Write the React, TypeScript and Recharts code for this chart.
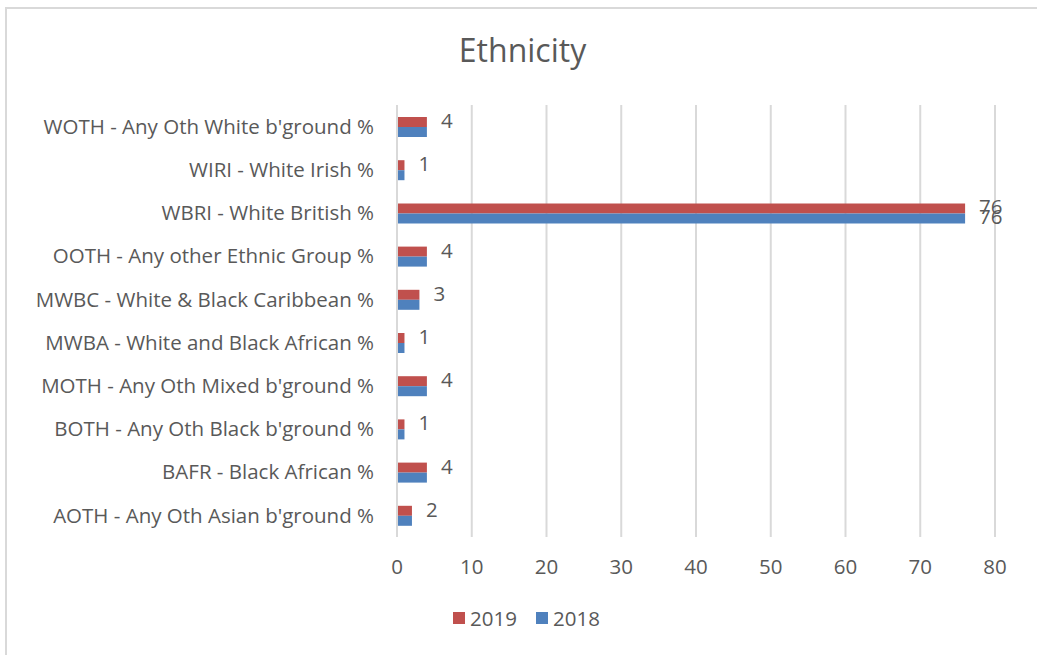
import { BarChart, Bar, XAxis, YAxis, CartesianGrid, LabelList } from "recharts";

const categories = [
  "WOTH - Any Oth White b'ground %",
  "WIRI - White Irish %",
  "WBRI - White British %",
  "OOTH - Any other Ethnic Group %",
  "MWBC - White & Black Caribbean %",
  "MWBA - White and Black African %",
  "MOTH - Any Oth Mixed b'ground %",
  "BOTH - Any Oth Black b'ground %",
  "BAFR - Black African %",
  "AOTH - Any Oth Asian b'ground %",
];
const values2019 = [4, 1, 76, 4, 3, 1, 4, 1, 4, 2];
const values2018 = [4, 1, 76, 4, 3, 1, 4, 1, 4, 2];
// only the long bar gets a visible 2018 label, the rest sit under the 2019 ones
const show2018Label = [false, false, true, false, false, false, false, false, false, false];
const xTicks = [0, 10, 20, 30, 40, 50, 60, 70, 80];

const data = categories.map((name, i) => ({
  name,
  y2019: values2019[i],
  y2018: values2018[i],
}));

const FONT = "'Open Sans', sans-serif";
const TEXT = "#595959";
const GRID = "#d9d9d9";
const RED = "#C0504D";
const BLUE = "#4F81BD";
const FS = 20.5;

const label2018 = (props: any) => {
  const { x, y, width, height, value, index } = props;
  if (!show2018Label[index]) return null;
  return (
    <text x={x + width + 14} y={y + height / 2} dy={6} fill={TEXT} fontSize={FS} fontFamily={FONT}>
      {value}
    </text>
  );
};

const label2019 = (props: any) => {
  const { x, y, width, height, value } = props;
  return (
    <text x={x + width + 14} y={y + height / 2} dy={6} fill={TEXT} fontSize={FS} fontFamily={FONT}>
      {value}
    </text>
  );
};

const legendItems = [
  { name: "2019", color: RED },
  { name: "2018", color: BLUE },
];

export default function App() {
  return (
    <div style={{ position: "absolute", left: 0, top: 0, width: 1037, height: 655, overflow: "hidden", background: "#fff", fontFamily: FONT }}>
      <div style={{ position: "absolute", left: 5, top: 7, width: 1100, height: 700, border: `2px solid ${GRID}` }} />
      <div style={{ position: "absolute", left: 5, width: 1035, top: 28, textAlign: "center", fontSize: 32, color: TEXT }}>
        Ethnicity
      </div>
      <div style={{ position: "absolute", left: 0, top: 0 }}>
        <BarChart
          width={1037}
          height={655}
          data={data}
          layout="vertical"
          margin={{ top: 105, right: 42, bottom: 82, left: 0 }}
          barSize={10}
          barGap={0}
        >
          <CartesianGrid horizontal={false} stroke={GRID} strokeWidth={2} />
          <XAxis
            type="number"
            domain={[0, 80]}
            ticks={xTicks}
            axisLine={false}
            tickLine={false}
            tickMargin={16}
            height={36}
            tick={{ fill: TEXT, fontSize: FS, fontFamily: FONT }}
          />
          <YAxis
            type="category"
            dataKey="name"
            width={397}
            axisLine={{ stroke: GRID, strokeWidth: 2 }}
            tickLine={false}
            tickSize={0}
            tickMargin={23}
            interval={0}
            tick={{ fill: TEXT, fontSize: FS, fontFamily: FONT }}
          />
          <Bar dataKey="y2019" name="2019" fill={RED} isAnimationActive={false}>
            <LabelList dataKey="y2019" content={label2019} />
          </Bar>
          <Bar dataKey="y2018" name="2018" fill={BLUE} isAnimationActive={false}>
            <LabelList dataKey="y2018" content={label2018} />
          </Bar>
        </BarChart>
      </div>
      <div style={{ position: "absolute", left: 5, width: 1043, top: 604, display: "flex", justifyContent: "center", gap: 19, fontSize: FS, color: TEXT }}>
        {legendItems.map((it) => (
          <div key={it.name} style={{ display: "flex", alignItems: "center", gap: 5 }}>
            <span style={{ width: 12, height: 12, background: it.color, display: "inline-block" }} />
            <span>{it.name}</span>
          </div>
        ))}
      </div>
    </div>
  );
}
